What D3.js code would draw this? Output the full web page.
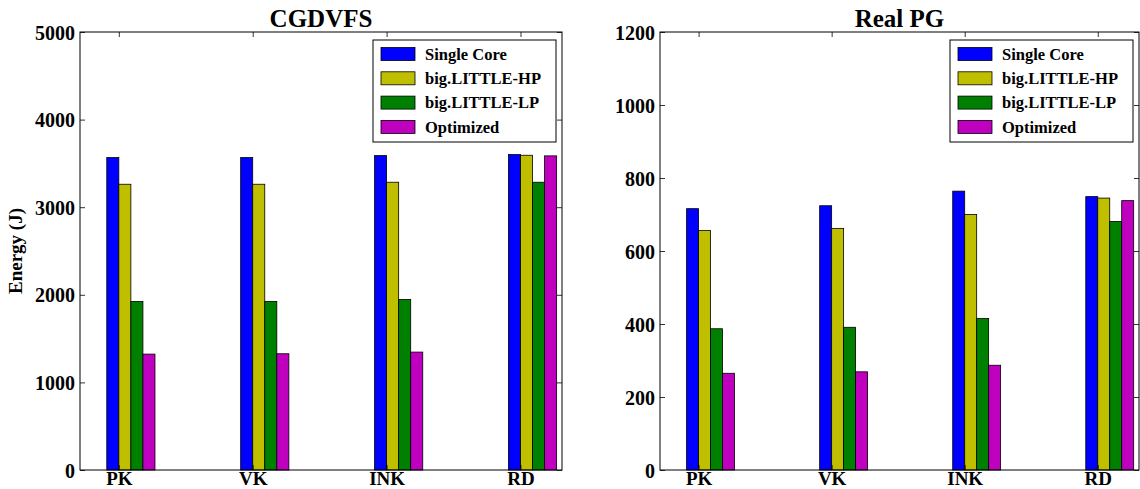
<!DOCTYPE html>
<html><head><meta charset="utf-8">
<script src="https://cdn.jsdelivr.net/npm/d3@7"></script>
<style>
html,body{margin:0;padding:0;background:#fff;}
text{font-family:"Liberation Serif","DejaVu Serif",serif;font-weight:bold;fill:#000;}
</style></head>
<body><svg id="chart" width="1140" height="489"></svg>
<script>
const categories = ["PK", "VK", "INK", "RD"];
const seriesNames = ["Single Core", "big.LITTLE-HP", "big.LITTLE-LP", "Optimized"];
const seriesColors = ["#0000ff", "#bfbf00", "#008000", "#bf00bf"];

const cgdvfsSingleCore   = [3567, 3567, 3589, 3601];
const cgdvfsBigLittleHP  = [3262, 3262, 3285, 3593];
const cgdvfsBigLittleLP  = [1924, 1924, 1947, 3285];
const cgdvfsOptimized    = [1323, 1327, 1346, 3586];

const realPgSingleCore   = [716, 724, 764, 749];
const realPgBigLittleHP  = [656, 662, 700, 745];
const realPgBigLittleLP  = [387, 391, 415, 681];
const realPgOptimized    = [265, 269, 287, 738];

const cgdvfsTicks = [0, 1000, 2000, 3000, 4000, 5000];
const realPgTicks = [0, 200, 400, 600, 800, 1000, 1200];

const svg = d3.select("#chart");
const barW = 0.09;

function panel(opts) {
  const {left, right, top, bottom, title, series, ticks, ylabel} = opts;
  const g = svg.append("g");
  const x = d3.scaleLinear().domain([-0.29, 3.31]).range([left, right]);
  const y = d3.scaleLinear().domain([ticks[0], ticks[ticks.length - 1]]).range([bottom, top]);

  series.forEach((vals, k) => {
    g.selectAll(null).data(vals).enter().append("rect")
      .attr("x", (d, i) => x(i + (k - 1) * barW))
      .attr("width", x(barW) - x(0))
      .attr("y", d => y(d))
      .attr("height", d => y(0) - y(d))
      .attr("fill", seriesColors[k])
      .attr("stroke", "#000").attr("stroke-width", 0.8);
  });

  const axL = d3.axisLeft(y).tickValues(ticks).tickSize(-5).tickPadding(5).tickFormat(d3.format("d"));
  const gl = g.append("g").attr("transform", `translate(${left},0)`).call(axL);
  const axR = d3.axisRight(y).tickValues(ticks).tickSize(-5).tickFormat("");
  g.append("g").attr("transform", `translate(${right},0)`).call(axR);
  const axT = d3.axisTop(x).tickValues([0, 1, 2, 3]).tickSize(-5).tickFormat("");
  g.append("g").attr("transform", `translate(0,${top})`).call(axT);
  const axB = d3.axisBottom(x).tickValues([0, 1, 2, 3]).tickSize(-5).tickPadding(0).tickFormat(i => categories[i]);
  const gb = g.append("g").attr("transform", `translate(0,${bottom})`).call(axB);
  g.selectAll(".domain").remove();
  g.selectAll(".tick line").attr("stroke", "#000").attr("stroke-width", 0.8);
  gl.selectAll("text").style("font-size", "20px").attr("dy", "0.35em");
  gb.selectAll("text").style("font-size", "19px").attr("dy", "0.78em");

  g.append("rect").attr("x", left).attr("y", top).attr("width", right - left).attr("height", bottom - top)
    .attr("fill", "none").attr("stroke", "#000").attr("stroke-width", 1);

  g.append("text").attr("x", (left + right) / 2).attr("y", 27).attr("text-anchor", "middle")
    .style("font-size", "25px").text(title);

  if (ylabel) {
    g.append("text").attr("transform", `translate(22,${(top + bottom) / 2}) rotate(-90)`)
      .attr("text-anchor", "middle").style("font-size", "19px").text(ylabel);
  }

  const lx = right - 189, ly = top + 8, lw = 183, lh = 102;
  const lg = g.append("g");
  lg.append("rect").attr("x", lx).attr("y", ly).attr("width", lw).attr("height", lh)
    .attr("fill", "#fff").attr("stroke", "#000").attr("stroke-width", 1);
  seriesNames.forEach((name, k) => {
    const cy = ly + 14 + k * 24.3;
    lg.append("rect").attr("x", lx + 8).attr("y", cy - 6.5).attr("width", 34).attr("height", 13)
      .attr("fill", seriesColors[k]).attr("stroke", "#000").attr("stroke-width", 0.8);
    lg.append("text").attr("x", lx + 52).attr("y", cy).attr("dy", "0.35em")
      .style("font-size", "16.5px").text(name);
  });
}

panel({left: 80, right: 562, top: 32, bottom: 470, title: "CGDVFS",
  series: [cgdvfsSingleCore, cgdvfsBigLittleHP, cgdvfsBigLittleLP, cgdvfsOptimized],
  ticks: cgdvfsTicks, ylabel: "Energy (J)"});
panel({left: 660, right: 1139, top: 32, bottom: 470, title: "Real PG",
  series: [realPgSingleCore, realPgBigLittleHP, realPgBigLittleLP, realPgOptimized],
  ticks: realPgTicks});
</script></body></html>
